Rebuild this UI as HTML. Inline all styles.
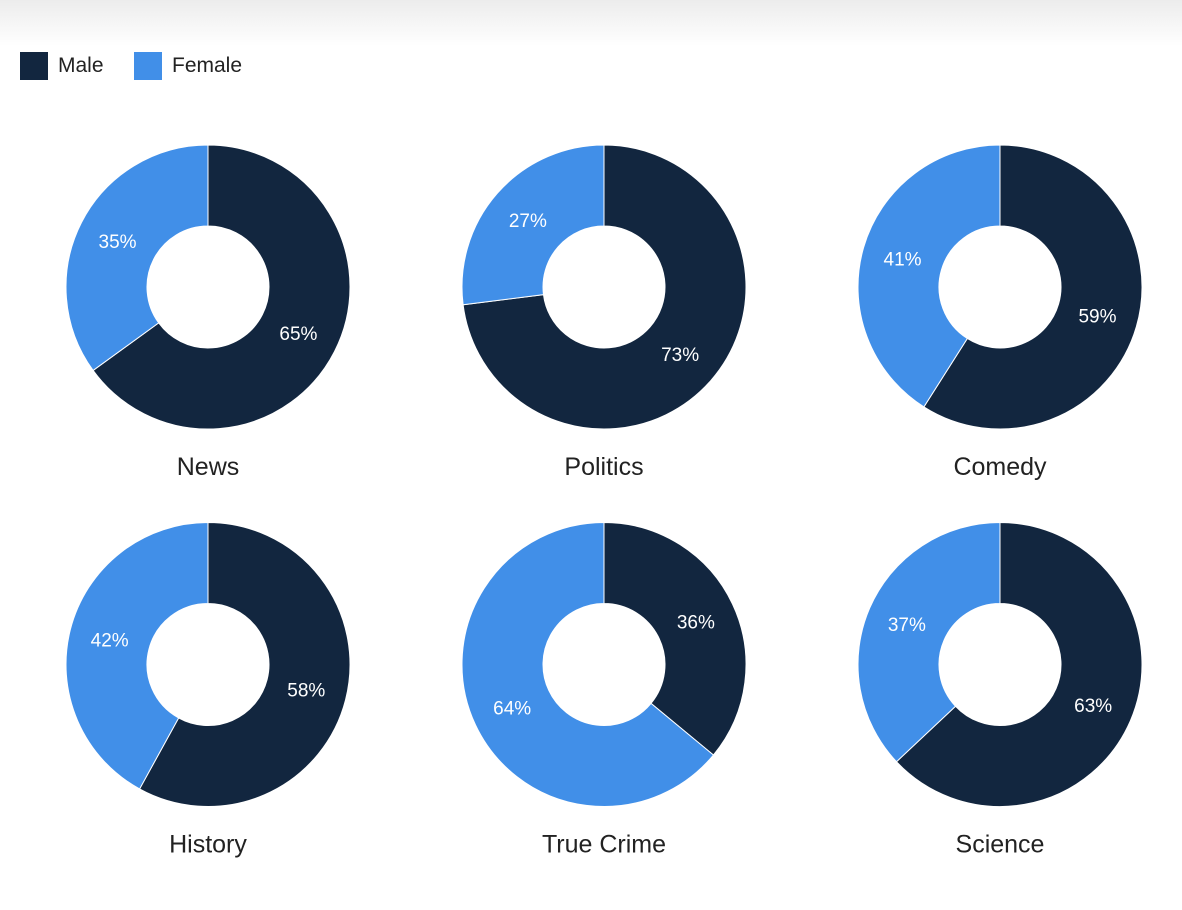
<!DOCTYPE html>
<html><head><meta charset="utf-8"><style>
body{margin:0;width:1182px;height:910px;background:#fff;font-family:"Liberation Sans",Arial,sans-serif;overflow:hidden;position:relative}
#topshade{position:absolute;left:0;top:0;width:1182px;height:46px;background:linear-gradient(#ececec,#fff)}
.leg{position:absolute;top:52px;display:flex;align-items:center;font-size:21px;color:#222}
.sw{width:28px;height:28px;margin-right:10px}
</style></head><body>
<div id="topshade"></div>
<div class="leg" style="left:20px"><div class="sw" style="background:#12263f"></div>Male</div>
<div class="leg" style="left:134px"><div class="sw" style="background:#418fe8"></div>Female</div>
<svg id="chart" width="1182" height="910" style="position:absolute;left:0;top:0"></svg>
<script>
const categories=["News","Politics","Comedy","History","True Crime","Science"];
const maleValues=[65,73,59,58,36,63];
const femaleValues=[35,27,41,42,64,37];
const colors=["#12263f","#418fe8"];
const svg=document.getElementById('chart');
const NS="http://www.w3.org/2000/svg";
const R=142,r=61,cols=[208,604,1000],rows=[287,664.5];
function pt(cx,cy,rad,a){return [cx+rad*Math.sin(a),cy-rad*Math.cos(a)];}
categories.forEach((cat,i)=>{
  const cx=cols[i%3],cy=rows[Math.floor(i/3)];
  const vals=[maleValues[i],femaleValues[i]];
  const tot=vals[0]+vals[1];
  let a0=0;
  vals.forEach((v,j)=>{
    const a1=a0+v/tot*2*Math.PI;
    const large=(a1-a0)>Math.PI?1:0;
    const [x0,y0]=pt(cx,cy,R,a0),[x1,y1]=pt(cx,cy,R,a1),[x2,y2]=pt(cx,cy,r,a1),[x3,y3]=pt(cx,cy,r,a0);
    const p=document.createElementNS(NS,'path');
    p.setAttribute('d',`M${x0},${y0}A${R},${R} 0 ${large} 1 ${x1},${y1}L${x2},${y2}A${r},${r} 0 ${large} 0 ${x3},${y3}Z`);
    p.setAttribute('fill',colors[j]);p.setAttribute('stroke','#fff');p.setAttribute('stroke-width','1');
    
    
    svg.appendChild(p);
    const [lx,ly]=pt(cx,cy,(R+r)/2,(a0+a1)/2);
    const t=document.createElementNS(NS,'text');
    t.setAttribute('x',lx);t.setAttribute('y',ly+7);t.setAttribute('text-anchor','middle');
    t.setAttribute('fill','#fff');t.setAttribute('font-size','19');t.setAttribute('font-family','Liberation Sans, sans-serif');
    t.textContent=v+'%';
    
    
    svg.appendChild(t);
    a0=a1;
  });
  const c=document.createElementNS(NS,'text');
  c.setAttribute('x',cx);c.setAttribute('y',cy+188);c.setAttribute('text-anchor','middle');
  c.setAttribute('fill','#222');c.setAttribute('font-size','25');c.setAttribute('font-family','Liberation Sans, sans-serif');
  c.textContent=cat;
  
  
  svg.appendChild(c);
});
</script>
</body></html>
